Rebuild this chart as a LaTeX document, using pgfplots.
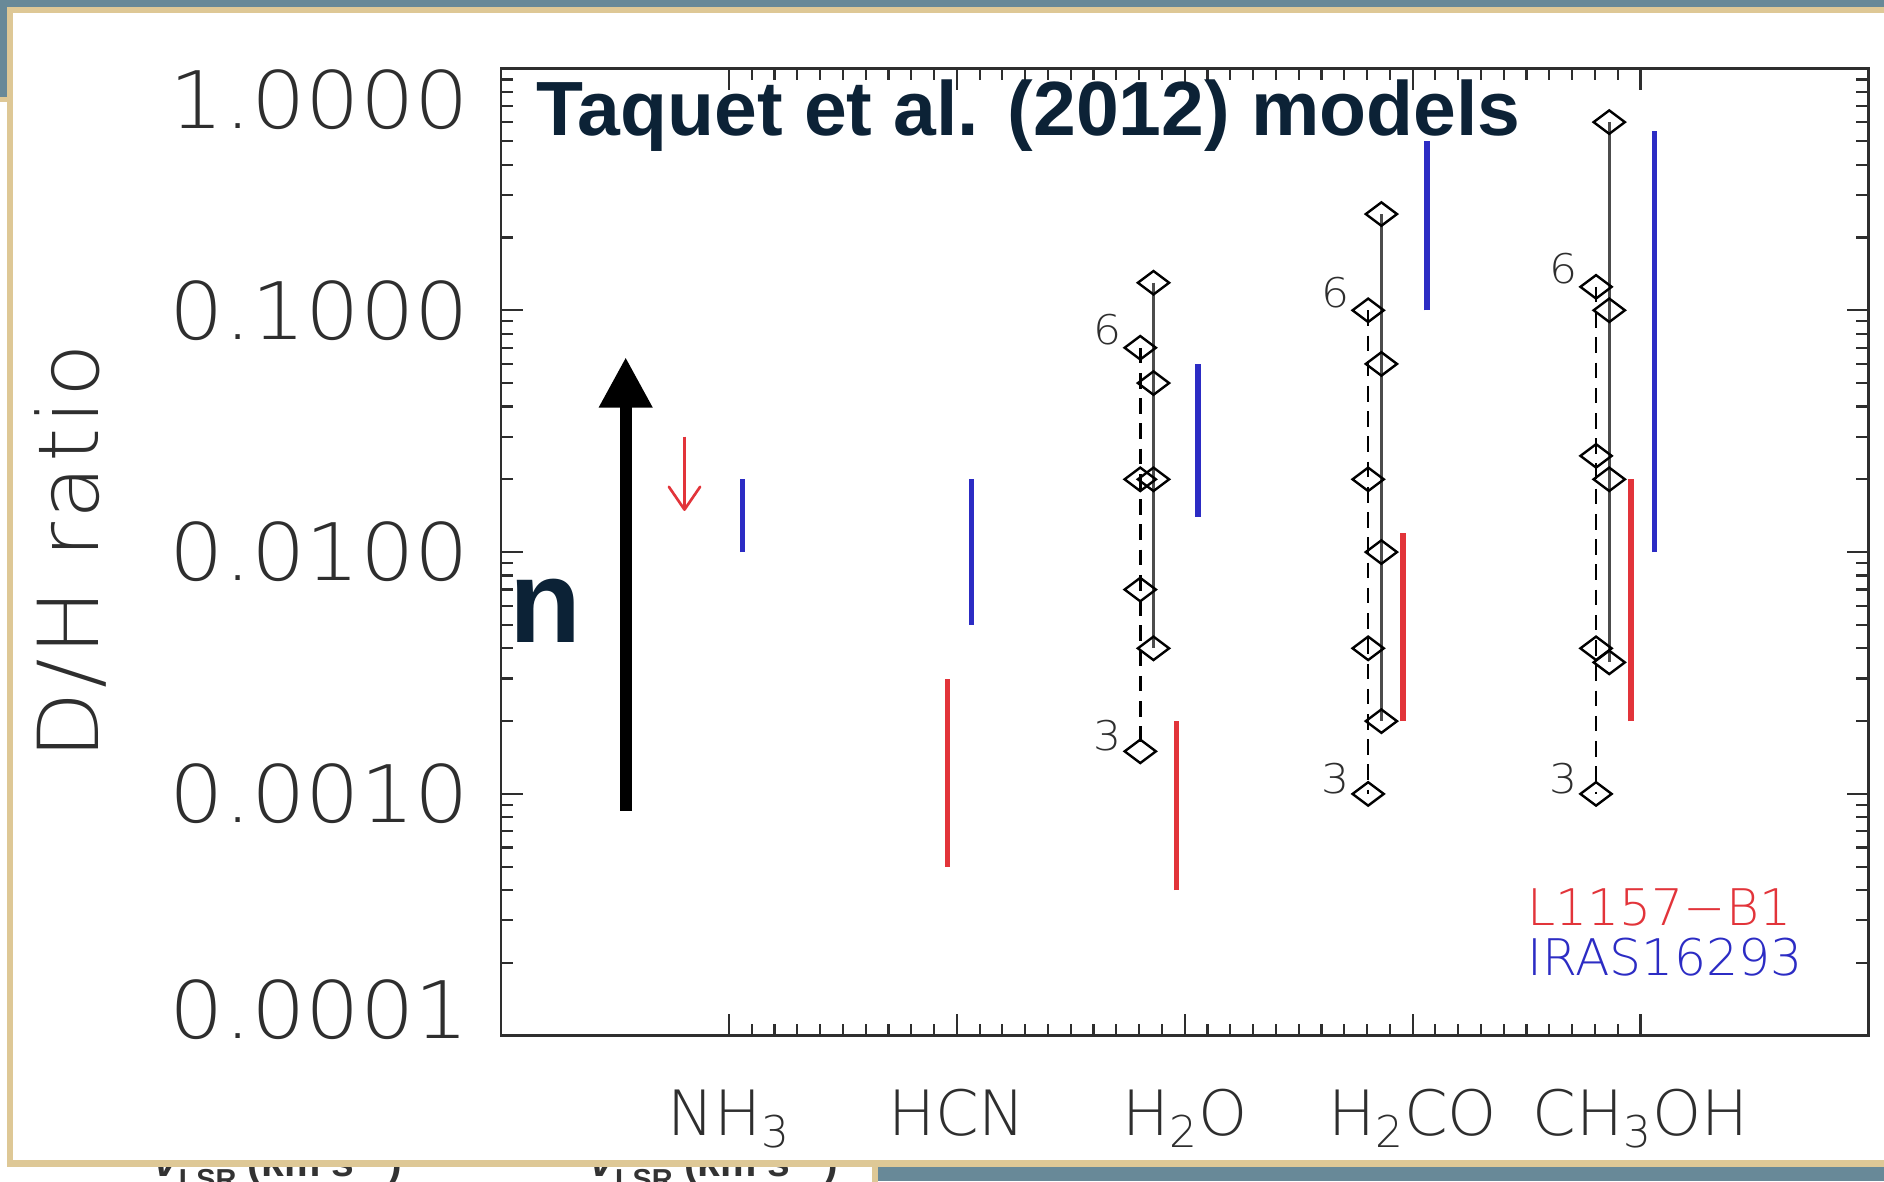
\documentclass[border=0pt]{standalone}
\usepackage{pgfplots}
\pgfplotsset{compat=1.18}
\usetikzlibrary{arrows.meta}
\usepackage{fontspec}
\setmainfont{Liberation Sans}
\newfontfamily\idl{DejaVuSans-ExtraLight.ttf}
\newfontfamily\idlwide{DejaVuSans-ExtraLight.ttf}[FakeStretch=1.08]
\newfontfamily\idlspaced{DejaVuSans-ExtraLight.ttf}[FakeStretch=1.04, LetterSpace=4]

\definecolor{slidebg}{HTML}{688998}
\definecolor{slidetan}{HTML}{DEC896}
\definecolor{navy}{HTML}{0C2236}
\definecolor{obsred}{RGB}{226,52,58}
\definecolor{obsblue}{RGB}{44,44,196}
\definecolor{axisgray}{HTML}{2E2E2E}

\pgfplotsset{
  model dashed/.style={black, line width=1.1pt, dash pattern=on 6.5pt off 4pt,
    mark=diamond, mark size=6.5pt, mark options={solid, rotate=90, fill=none, line width=1pt}},
  model solid/.style={black!70, line width=1.1pt,
    mark=diamond, mark size=6.5pt, mark options={black, rotate=90, fill=none, line width=1pt}},
  obs red/.style={obsred, line width=2.2pt},
  obs blue/.style={obsblue, line width=2.2pt},
}

\begin{document}
\begin{tikzpicture}
% slide backdrop
\path[use as bounding box] (0,0) rectangle (784pt,491.5pt);
\fill[slidebg] (0,0) rectangle (784pt,491.5pt);
% panel lying behind, lower left
\fill[slidetan] (-5pt,-5pt) rectangle (365.5pt,451.25pt);
\fill[white] (-5pt,-5pt) rectangle (363pt,449pt);
\node[anchor=base west, inner sep=0, text=black!80,
      font=\bfseries\fontsize{17}{17}\selectfont] at (64pt,2pt)
      {\textit{v}\raisebox{-5.5pt}{\fontsize{12}{12}\selectfont LSR} (km s\textsuperscript{−1})};
\node[anchor=base west, inner sep=0, text=black!80,
      font=\bfseries\fontsize{17}{17}\selectfont] at (245.5pt,2pt)
      {\textit{v}\raisebox{-5.5pt}{\fontsize{12}{12}\selectfont LSR} (km s\textsuperscript{−1})};
% main panel
\fill[slidetan] (2.8pt,6pt) rectangle (800pt,488.5pt);
\fill[white] (5.6pt,8.75pt) rectangle (800pt,486pt);

\begin{axis}[
  at={(208.5pt,60.5pt)}, anchor=south west,
  scale only axis, width=569pt, height=402.5pt,
  xmin=0, xmax=6,
  ymode=log, ymin=1e-4, ymax=1,
  xtick={1,2,3,4,5},
  xticklabels={NH\textsubscript{3}, HCN, H\textsubscript{2}O, H\textsubscript{2}CO, CH\textsubscript{3}OH},
  minor x tick num=9,
  ytick={1e-3,1e-2,1e-1},
  yticklabels={0.0010,0.0100,0.1000},
  minor ytick={2e-4,3e-4,4e-4,5e-4,6e-4,7e-4,8e-4,9e-4,
               2e-3,3e-3,4e-3,5e-3,6e-3,7e-3,8e-3,9e-3,
               2e-2,3e-2,4e-2,5e-2,6e-2,7e-2,8e-2,9e-2,
               2e-1,3e-1,4e-1,5e-1,6e-1,7e-1,8e-1,9e-1},
  axis line style={axisgray, line width=1.1pt},
  every tick/.style={axisgray, line width=0.9pt},
  major tick length=9pt, minor tick length=5pt,
  tick align=inside,
  xticklabel style={font=\idl\fontsize{26}{26}\selectfont, text=axisgray,
                    anchor=base, yshift=-41.5pt},
  yticklabel style={font=\idlwide\fontsize{33}{33}\selectfont, text=axisgray,
                    anchor=east, inner sep=0pt, xshift=-13pt},
  clip=false,
]
% L1157-B1 (red)
\addplot[obsred, line width=1.1pt, -{Straight Barb[length=9.5pt,width=13pt,round]}]
  coordinates {(0.805,0.03) (0.805,0.0148)};
\addplot[obs red] coordinates {(1.958,0.0005) (1.958,0.003)};
\addplot[obs red] coordinates {(2.963,0.0004) (2.963,0.002)};
\addplot[obs red] coordinates {(3.958,0.002) (3.958,0.012)};
\addplot[obs red] coordinates {(4.958,0.002) (4.958,0.02)};
% IRAS16293 (blue)
\addplot[obs blue] coordinates {(1.058,0.01) (1.058,0.02)};
\addplot[obs blue] coordinates {(2.063,0.005) (2.063,0.02)};
\addplot[obs blue] coordinates {(3.058,0.014) (3.058,0.06)};
\addplot[obs blue] coordinates {(4.063,0.1) (4.063,0.5)};
\addplot[obs blue] coordinates {(5.063,0.01) (5.063,0.55)};
% model predictions, dashed series
\addplot[model dashed] coordinates {(2.805,0.07) (2.805,0.02) (2.805,0.007) (2.805,0.0015)};
\addplot[model dashed] coordinates {(3.805,0.1) (3.805,0.02) (3.805,0.004) (3.805,0.001)};
\addplot[model dashed] coordinates {(4.805,0.125) (4.805,0.025) (4.805,0.004) (4.805,0.001)};
% model predictions, solid series
\addplot[model solid] coordinates {(2.863,0.13) (2.863,0.05) (2.863,0.02) (2.863,0.004)};
\addplot[model solid] coordinates {(3.863,0.25) (3.863,0.06) (3.863,0.01) (3.863,0.002)};
\addplot[model solid] coordinates {(4.863,0.6) (4.863,0.1) (4.863,0.02) (4.863,0.0035)};
% density labels at the dashed ends
\foreach \xx/\yt/\yb in {2.805/0.07/0.0015, 3.805/0.1/0.001, 4.805/0.125/0.001}{
  \edef\temp{\noexpand\node[font=\noexpand\idlwide\noexpand\fontsize{17}{17}\noexpand\selectfont,
     text=axisgray, xshift=-13.5pt, yshift=7.5pt] at (axis cs:\xx,\yt) {6};
    \noexpand\node[font=\noexpand\idlwide\noexpand\fontsize{17}{17}\noexpand\selectfont,
     text=axisgray, xshift=-13.5pt, yshift=6.5pt] at (axis cs:\xx,\yb) {3};}
  \temp
}
% end labels of the y axis
\node[anchor=east, inner sep=0pt, xshift=-13pt, yshift=-13pt,
      font=\idlwide\fontsize{33}{33}\selectfont, text=axisgray] at (rel axis cs:0,1) {1.0000};
\node[anchor=east, inner sep=0pt, xshift=-13pt, yshift=11pt,
      font=\idlwide\fontsize{33}{33}\selectfont, text=axisgray] at (rel axis cs:0,0) {0.0001};
% legend
\node[anchor=base west, inner sep=0pt, font=\idl\fontsize{21}{21}\selectfont, text=obsred]
  at (rel axis cs:0.7503,0.1143) {L1157−B1};
\node[anchor=base west, inner sep=0pt, font=\idl\fontsize{21}{21}\selectfont, text=obsblue]
  at (rel axis cs:0.7503,0.0621) {IRAS16293};
% density arrow
\draw[black, line width=5pt, -{Triangle[length=21pt,width=21pt]}]
  (axis cs:0.547,0.00085) -- (axis cs:0.547,0.064);
\end{axis}

% axis title and slide annotations
\node[rotate=90, anchor=base, inner sep=0pt, font=\idlspaced\fontsize{35}{35}\selectfont, text=axisgray]
  at (41pt,262pt) {D/H ratio};
\node[anchor=base west, inner sep=0pt, font=\bfseries\fontsize{32}{32}\selectfont, text=navy]
  at (223pt,435pt) {Taquet et al. (2012) models};
\node[anchor=base west, inner sep=0pt, font=\bfseries\fontsize{49}{49}\selectfont, text=navy]
  at (212pt,224pt) {n};
\end{tikzpicture}
\end{document}
